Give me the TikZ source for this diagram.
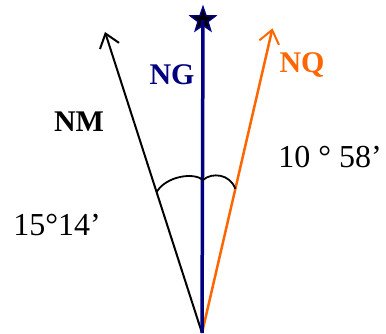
\documentclass[tikz,border=0pt]{standalone}
\usepackage{fontspec}
\setmainfont{Liberation Serif}
\usetikzlibrary{arrows.meta,shapes.geometric,calc}
\definecolor{ngblue}{RGB}{0,0,128}
\definecolor{nqorange}{RGB}{255,102,0}
\tikzset{
  barb/.style={-{Straight Barb[length=13pt,width=20pt,line width=2pt]}},
  lbl/.style={font=\fontsize{30}{30}\selectfont\bfseries, inner sep=0pt},
  ang/.style={font=\fontsize{32}{32}\selectfont, inner sep=0pt}
}
\begin{document}
\begin{tikzpicture}[x=1pt,y=1pt]
\useasboundingbox (0,0) rectangle (386,334);
\coordinate (O) at (202,1);
\coordinate (NMtip) at (105,302);
\coordinate (NQtip) at (272.5,305.7);
\node[star, star points=5, star point ratio=2.5, minimum size=26pt, inner sep=0pt, fill=black, draw=ngblue, line width=1.5pt] (star) at (203,314) {};
\draw[barb, line width=2pt, black] (O) -- (NMtip);
\draw[barb, line width=2.5pt, nqorange] (O) -- (NQtip);
\draw[line width=3.5pt, ngblue] (O) -- (star.center);
\coordinate (A1) at ($(O)!148pt!(NMtip)$);
\coordinate (A2) at (203,154);
\coordinate (A3) at ($(O)!148pt!(NQtip)$);
\draw[line width=1.8pt] (A1) .. controls (166,158) and (194,162) .. (A2)
  .. controls (212,162) and (230,160) .. (A3);
\node[lbl, text=ngblue] (NG) at (172,259) {NG};
\node[lbl, text=black] (NM) at (79,212) {NM};
\node[lbl, text=nqorange] (NQ) at (302,269) {NQ};
\node[ang] (a1) at (330,177) {10 ° 58’};
\node[ang] (a2) at (57,109) {15°14’};
\end{tikzpicture}
\end{document}
